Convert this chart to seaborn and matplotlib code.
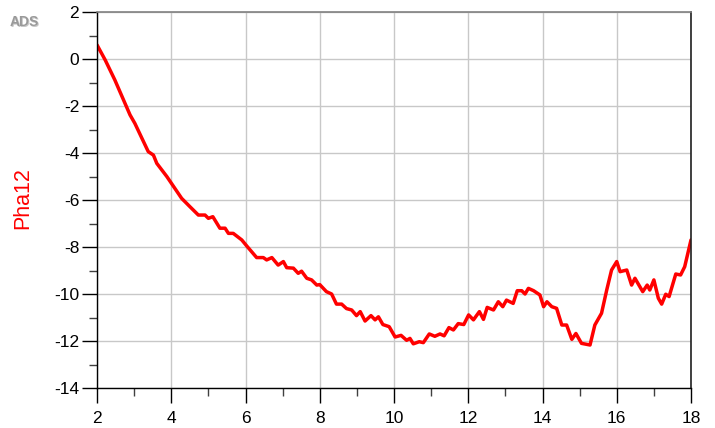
import numpy as np
import pandas as pd
import matplotlib
matplotlib.use("Agg")
import matplotlib.pyplot as plt
import seaborn as sns
from matplotlib.ticker import MultipleLocator

freq = [2.00, 2.22, 2.48, 2.89, 3.02, 3.38, 3.52, 3.61, 3.88, 4.28, 4.50, 4.73, 4.91, 5.00,
        5.12, 5.31, 5.45, 5.54, 5.67, 5.90, 6.03, 6.30, 6.48, 6.57, 6.71, 6.88, 7.02, 7.11,
        7.29, 7.42, 7.51, 7.65, 7.78, 7.92, 8.00, 8.18, 8.32, 8.45, 8.59, 8.72, 8.86, 8.99,
        9.09, 9.22, 9.38, 9.49, 9.58, 9.70, 9.87, 10.03, 10.19, 10.34, 10.43, 10.52, 10.68,
        10.79, 10.95, 11.10, 11.24, 11.35, 11.48, 11.60, 11.73, 11.88, 12.01, 12.14, 12.30,
        12.41, 12.51, 12.68, 12.81, 12.93, 13.03, 13.21, 13.32, 13.44, 13.53, 13.62, 13.76,
        13.93, 14.03, 14.12, 14.25, 14.38, 14.52, 14.65, 14.79, 14.90, 15.05, 15.28, 15.41,
        15.59, 15.73, 15.86, 16.00, 16.09, 16.27, 16.40, 16.49, 16.70, 16.82, 16.89, 17.00,
        17.12, 17.21, 17.32, 17.41, 17.59, 17.72, 17.83, 18.00]
pha12 = [0.60, -0.04, -0.89, -2.38, -2.74, -3.94, -4.09, -4.44, -5.00, -5.93, -6.28, -6.64,
         -6.64, -6.78, -6.71, -7.20, -7.20, -7.42, -7.42, -7.70, -7.95, -8.45, -8.45, -8.55,
         -8.45, -8.77, -8.62, -8.88, -8.90, -9.12, -9.03, -9.33, -9.40, -9.62, -9.60, -9.90,
         -10.00, -10.43, -10.43, -10.62, -10.68, -10.92, -10.75, -11.15, -10.92, -11.10,
         -10.97, -11.30, -11.39, -11.83, -11.76, -11.97, -11.89, -12.12, -12.03, -12.07,
         -11.70, -11.80, -11.70, -11.78, -11.43, -11.53, -11.26, -11.30, -10.89, -11.10,
         -10.75, -11.08, -10.57, -10.68, -10.33, -10.54, -10.26, -10.40, -9.86, -9.86,
         -10.00, -9.76, -9.86, -10.04, -10.54, -10.33, -10.54, -10.61, -11.32, -11.32,
         -11.93, -11.68, -12.10, -12.17, -11.32, -10.82, -9.83, -8.98, -8.62, -9.05, -8.98,
         -9.62, -9.33, -9.90, -9.62, -9.83, -9.40, -10.18, -10.43, -10.01, -10.11, -9.15,
         -9.19, -8.84, -7.70]
x_ticks = [2, 4, 6, 8, 10, 12, 14, 16, 18]
y_ticks = [2, 0, -2, -4, -6, -8, -10, -12, -14]
y_label = "Pha12"
watermark = "ADS"

sns.set_theme(style="white")
plt.rcParams['font.family'] = ['Liberation Sans', 'DejaVu Sans']
plt.rcParams['axes.unicode_minus'] = False

df = pd.DataFrame({"freq": freq, "Pha12": pha12})

fig = plt.figure(figsize=(7.15, 4.28), dpi=100)
ax = fig.add_axes([97/715, 1 - 388/428, (691 - 97)/715, (388 - 12)/428])
sns.lineplot(data=df, x="freq", y="Pha12", ax=ax, color="#ff0000", linewidth=2.5,
             estimator=None, sort=False)

ax.set_xlim(2, 18)
ax.set_ylim(-14, 2)
ax.set_xticks(x_ticks)
ax.set_yticks(y_ticks)
ax.set_xticklabels([str(t) for t in x_ticks])
ax.set_yticklabels([str(t) for t in y_ticks])
ax.xaxis.set_minor_locator(MultipleLocator(1))
ax.yaxis.set_minor_locator(MultipleLocator(1))
ax.grid(True, which="major", color="#c8c8c8", linewidth=1.0)
ax.set_axisbelow(True)

ax.tick_params(axis="both", which="both", bottom=True, left=True, top=False, right=False)
ax.tick_params(axis="both", which="major", direction="out", length=10.8, width=1.0,
               color="#000000", labelsize=12.5, labelcolor="#000000")
ax.tick_params(axis="x", which="major", pad=6)
ax.tick_params(axis="y", which="major", pad=2)
ax.tick_params(axis="both", which="minor", direction="out", length=5.5, width=1.0,
               color="#404040")

for side in ["left", "bottom"]:
    ax.spines[side].set_color("#000000")
    ax.spines[side].set_linewidth(1.0)
ax.spines["top"].set_color("#808080")
ax.spines["top"].set_linewidth(1.2)
ax.spines["right"].set_color("#202020")
ax.spines["right"].set_linewidth(1.2)

ax.set_xlabel("")
ax.set_ylabel("")
fig.text(23/715, 1 - 198/428, y_label, rotation=90, color="#ff0000", fontsize=15.5,
         ha="center", va="center")
fig.text(25/715, 1 - 23/428, watermark, color="#c8c8c8", fontsize=10, fontweight="bold",
         ha="center", va="center")
fig.text(24/715, 1 - 22/428, watermark, color="#9a9a9a", fontsize=10, fontweight="bold",
         ha="center", va="center")

fig.savefig("out.png", dpi=100)
